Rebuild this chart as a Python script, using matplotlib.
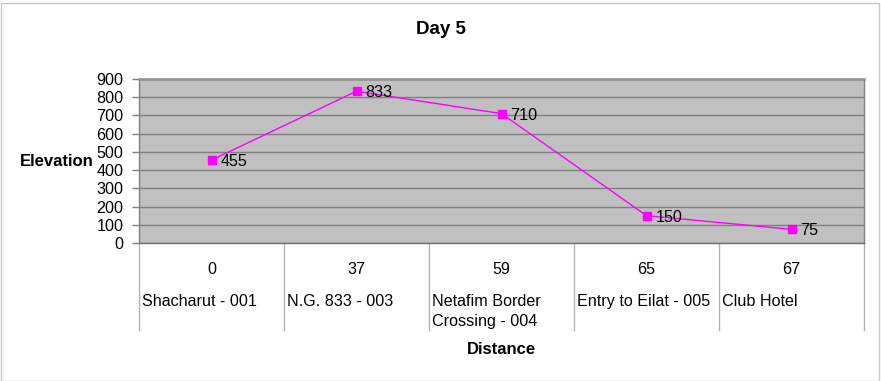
import matplotlib.pyplot as plt
from matplotlib.patches import Rectangle
import matplotlib.transforms as mtransforms

plt.rcParams['font.family'] = ['Liberation Sans', 'DejaVu Sans']

distances = ['0', '37', '59', '65', '67']
places = ['Shacharut - 001', 'N.G. 833 - 003', 'Netafim Border\nCrossing - 004',
          'Entry to Eilat - 005', 'Club Hotel']
elevation = [455, 833, 710, 150, 75]

W, H = 881, 381
fig = plt.figure(figsize=(W / 100, H / 100), dpi=100)
fig.patches.append(Rectangle((0.5 / W, 0.5 / H), (W - 3) / W, (H - 3) / H,
                             transform=fig.transFigure, fill=False,
                             edgecolor='#c8c8c8', linewidth=1))

fs = 11.6
left, right, top, bottom = 139, 864, 79, 243
ax = fig.add_axes([left / W, 1 - bottom / H, (right - left) / W, (bottom - top) / H])
ax.set_facecolor('#c0c0c0')

x = list(range(len(elevation)))
ax.plot(x, elevation, color='#ff00ff', linewidth=1, marker='s', markersize=5.5,
        markerfacecolor='#ff00ff', markeredgecolor='#ff00ff', zorder=3)
for xi, v in zip(x, elevation):
    ax.annotate(str(v), (xi, v), xytext=(6.5, -1), textcoords='offset points',
                ha='left', va='center', fontsize=fs, color='black', zorder=4)

ax.set_xlim(-0.5, len(x) - 0.5)
ax.set_ylim(0, 900)
ax.set_yticks(range(0, 901, 100))
ax.yaxis.grid(True, color='#808080', linewidth=1)
ax.set_axisbelow(True)
ax.set_xticks([])
ax.tick_params(axis='y', length=5, width=1, color='#808080', pad=6, labelsize=fs)
for s in ['left', 'right', 'bottom']:
    ax.spines[s].set_color('#808080')
    ax.spines[s].set_linewidth(1)
ax.spines['top'].set_color('#909090')
ax.spines['top'].set_linewidth(1.8)
ax.spines['bottom'].set_color('#707070')

# category table below the plot
ph = bottom - top
trans = mtransforms.blended_transform_factory(ax.transData, ax.transAxes)
for i in range(len(x) + 1):
    ax.plot([i - 0.5, i - 0.5], [0, -87 / ph], transform=trans, color='#b4b4b4',
            linewidth=1, clip_on=False)
for i, (d, p) in enumerate(zip(distances, places)):
    ax.text(i, -27 / ph, d, transform=trans, ha='center', va='center', fontsize=fs)
    ax.text(i - 0.5, -51 / ph, p, transform=trans + mtransforms.ScaledTranslation(3 / 100, 0, fig.dpi_scale_trans),
            ha='left', va='top', fontsize=fs, linespacing=1.4)

fig.text(0.5, 1 - 30 / H, 'Day 5', ha='center', va='center', fontsize=13.5, fontweight='bold')
fig.text(20 / W, 1 - 161 / H, 'Elevation', ha='left', va='center', fontsize=12, fontweight='bold')
fig.text((left + right) / 2 / W, 1 - 350 / H, 'Distance', ha='center', va='center',
         fontsize=12, fontweight='bold')

fig.savefig('out.png', dpi=100)
